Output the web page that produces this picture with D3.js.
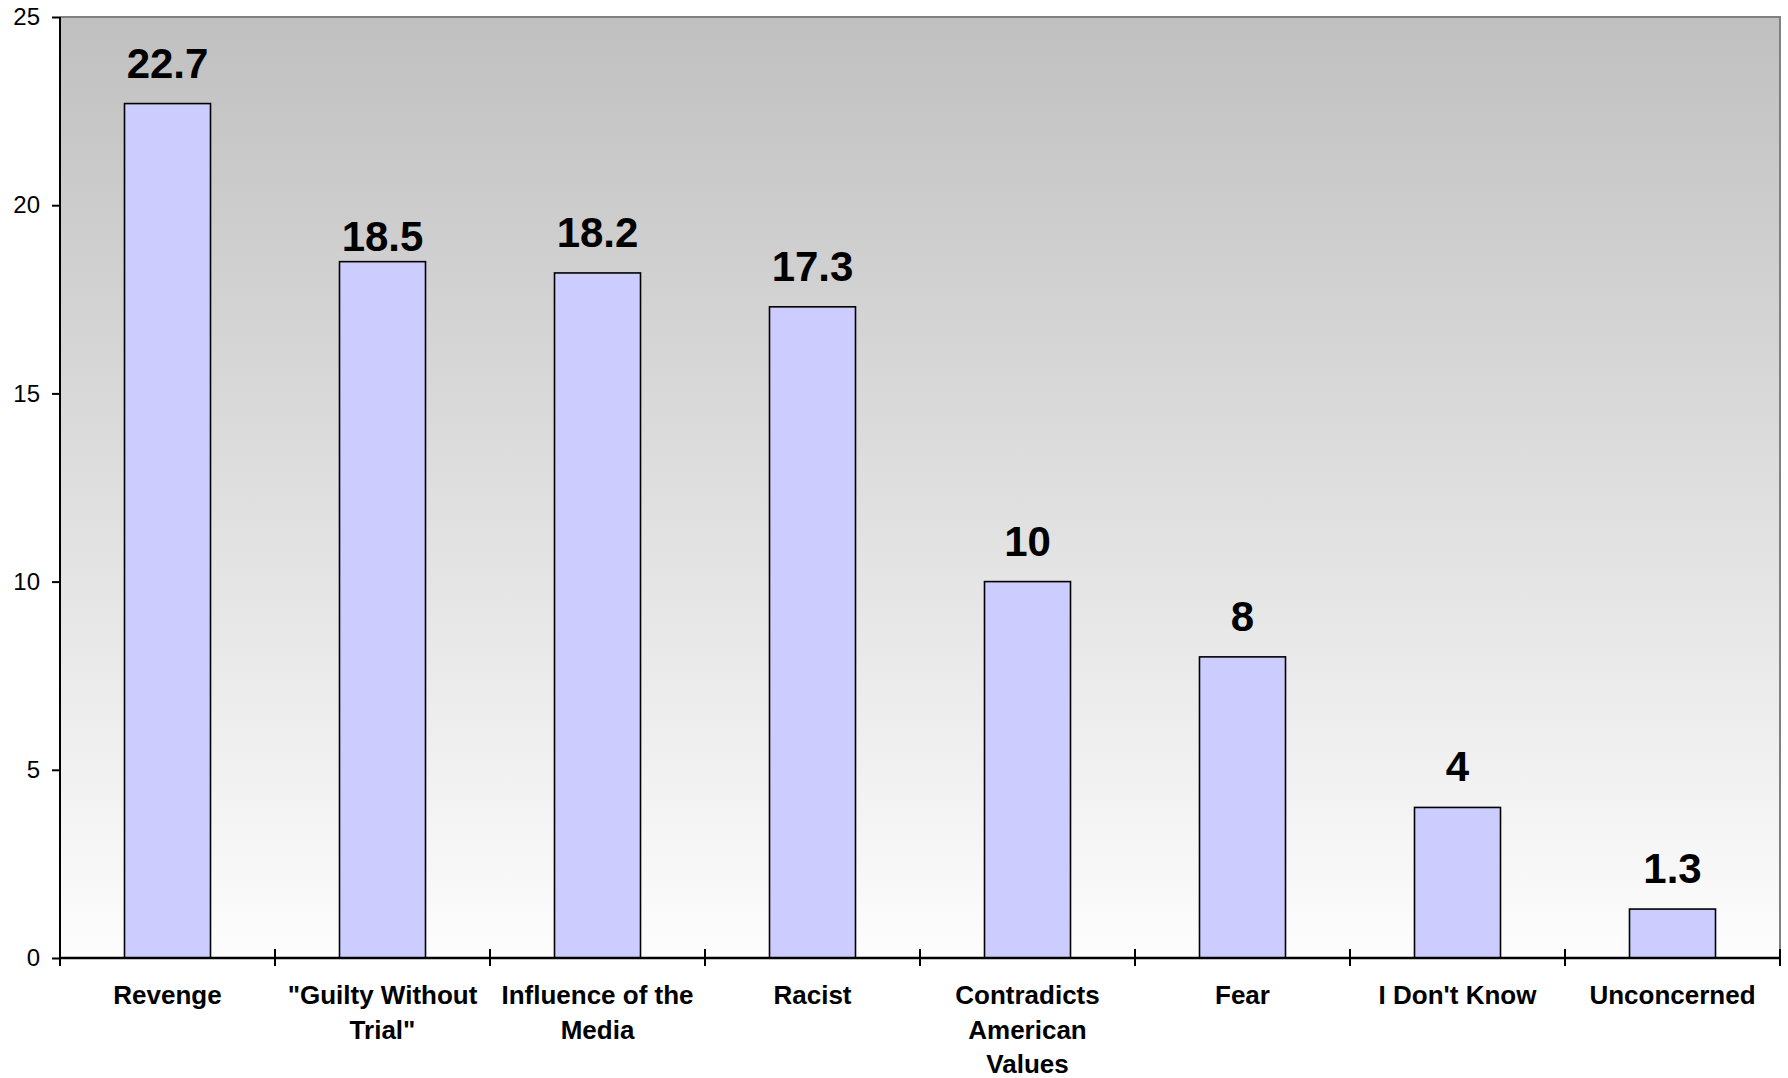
<!DOCTYPE html>
<html><head><meta charset="utf-8">
<script src="https://cdn.jsdelivr.net/npm/d3@7"></script>
<style>body{margin:0;background:#fff}svg{display:block}</style>
</head><body>
<svg id="c" width="1788" height="1078"></svg>
<script>
const categories = ["Revenge", "\"Guilty Without Trial\"", "Influence of the Media", "Racist", "Contradicts American Values", "Fear", "I Don't Know", "Unconcerned"];
const values = [22.7, 18.5, 18.2, 17.3, 10, 8, 4, 1.3];
const valueLabels = ["22.7", "18.5", "18.2", "17.3", "10", "8", "4", "1.3"];
const yTicks = [0, 5, 10, 15, 20, 25];

const svg = d3.select("#c");
const L = 60, R = 1780, T = 17, B = 958;
const x = d3.scaleBand().domain(categories).range([L, R]).paddingInner(0.6).paddingOuter(0.3);
const xb = d3.scaleBand().domain(categories).range([L, R]);
const y = d3.scaleLinear().domain([0, 25]).range([B, T]);

const defs = svg.append("defs");
const g = defs.append("linearGradient").attr("id", "bg").attr("x1", 0).attr("y1", 0).attr("x2", 0).attr("y2", 1);
g.append("stop").attr("offset", "0%").attr("stop-color", "#c0c0c0");
g.append("stop").attr("offset", "100%").attr("stop-color", "#fdfdfd");

svg.append("rect").attr("x", L).attr("y", T).attr("width", R - L).attr("height", B - T).attr("fill", "url(#bg)");
svg.append("path").attr("d", `M${L},${T}H${R}V${B}`).attr("fill", "none").attr("stroke", "#808080").attr("stroke-width", 2);

svg.selectAll("rect.bar").data(values).enter().append("rect").attr("class", "bar")
  .attr("x", (d, i) => x(categories[i]))
  .attr("width", x.bandwidth())
  .attr("y", d => y(d))
  .attr("height", d => y(0) - y(d))
  .attr("fill", "#ccccff").attr("stroke", "#000").attr("stroke-width", 1.6);

// label gap above bar (the second label sits closer to its bar in the original)
const gapFor = i => (i === 1 ? 11 : 26);
svg.selectAll("text.val").data(values).enter().append("text").attr("class", "val")
  .attr("x", (d, i) => x(categories[i]) + x.bandwidth() / 2)
  .attr("y", (d, i) => y(d) - gapFor(i))
  .attr("text-anchor", "middle")
  .attr("font-family", "Liberation Sans, Arial, sans-serif")
  .attr("font-weight", "bold").attr("font-size", 42)
  .text((d, i) => valueLabels[i]);

// y axis
const ya = svg.append("g").attr("transform", `translate(${L},0)`)
  .call(d3.axisLeft(y).tickValues(yTicks).tickSize(8).tickPadding(12).tickFormat(d3.format("d")));
ya.select(".domain").attr("stroke", "#000").attr("stroke-width", 2).attr("d", `M0,${B}V${T}`);
ya.selectAll(".tick line").attr("stroke", "#000").attr("stroke-width", 2);
ya.selectAll(".tick text").attr("font-family", "Liberation Sans, Arial, sans-serif").attr("font-size", 24).attr("fill", "#000");

// x axis line & ticks at band boundaries
svg.append("line").attr("x1", L).attr("x2", R).attr("y1", B).attr("y2", B).attr("stroke", "#000").attr("stroke-width", 2.5);
const bounds = categories.map(c => xb(c)).concat([R]);
svg.selectAll("line.xt").data(bounds).enter().append("line").attr("class", "xt")
  .attr("x1", d => d).attr("x2", d => d).attr("y1", B - 9).attr("y2", B + 8)
  .attr("stroke", "#000").attr("stroke-width", 2);

// category labels with wrapping
const maxW = 200;
categories.forEach(c => {
  const cx = xb(c) + xb.bandwidth() / 2;
  const t = svg.append("text").attr("x", cx).attr("y", B + 46)
    .attr("text-anchor", "middle")
    .attr("font-family", "Liberation Sans, Arial, sans-serif")
    .attr("font-weight", "bold").attr("font-size", 26);
  const words = c.split(" ");
  let line = [];
  let ts = t.append("tspan").attr("x", cx).attr("dy", 0);
  words.forEach(w => {
    line.push(w);
    ts.text(line.join(" "));
    if (ts.node().getComputedTextLength() > maxW && line.length > 1) {
      line.pop();
      ts.text(line.join(" "));
      line = [w];
      ts = t.append("tspan").attr("x", cx).attr("dy", 34.5).text(w);
    }
  });
});
</script>
</body></html>
